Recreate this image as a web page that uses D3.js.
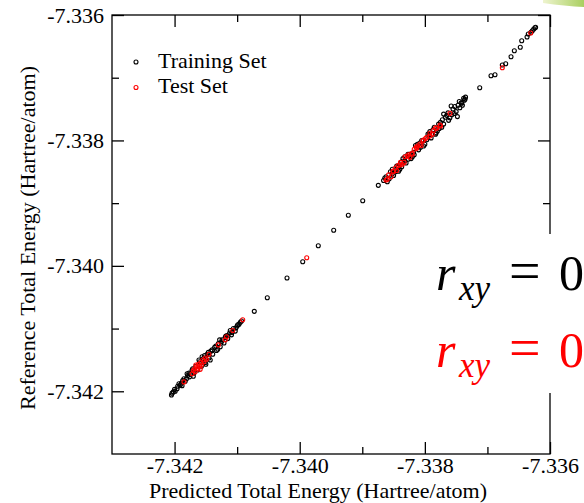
<!DOCTYPE html>
<html>
<head>
<meta charset="utf-8">
<script src="https://cdn.jsdelivr.net/npm/d3@7"></script>
<style>
  html, body { margin: 0; padding: 0; background: #fff; }
  svg { display: block; }
</style>
</head>
<body>
<svg id="chart" width="584" height="503"></svg>
<script>
// ---------------- data ----------------
const xMajorTicks = [-7.342, -7.340, -7.338, -7.336];
const xMinorTicks = [-7.341, -7.339, -7.337];
const yMajorTicks = [-7.342, -7.340, -7.338, -7.336];
const yMinorTicks = [-7.341, -7.339, -7.337];

const seriesNames = ["Training Set", "Test Set"];
const xTitle = "Predicted Total Energy (Hartree/atom)";
const yTitle = "Reference Total Energy (Hartree/atom)";

// [predicted, reference]
const trainingPoints = [
  // top-right sparse tail
  [-7.336230, -7.336195], [-7.336240, -7.336203], [-7.336260, -7.336223], [-7.336283, -7.336250],
  [-7.336304, -7.336276], [-7.336347, -7.336303], [-7.336367, -7.336351], [-7.336452, -7.336410],
  [-7.336475, -7.336515], [-7.336570, -7.336569], [-7.336623, -7.336665], [-7.336708, -7.336777],
  [-7.336762, -7.336797], [-7.336879, -7.336952], [-7.336943, -7.336968], [-7.337123, -7.337159],
  [-7.337358, -7.337344], [-7.337411, -7.337408],
  // upper cluster
  [-7.33866, -7.33864], [-7.33860, -7.33866], [-7.33855, -7.33850], [-7.33850, -7.33856],
  [-7.33845, -7.33841], [-7.33840, -7.33846], [-7.33835, -7.33829], [-7.33830, -7.33836],
  [-7.33825, -7.33822], [-7.33820, -7.33826], [-7.33815, -7.33808], [-7.33810, -7.33815],
  [-7.33805, -7.33800], [-7.33800, -7.33806], [-7.33795, -7.33790], [-7.33790, -7.33796],
  [-7.33785, -7.33779], [-7.33780, -7.33785], [-7.33775, -7.33771], [-7.33770, -7.33774],
  [-7.33765, -7.33760], [-7.33760, -7.33764], [-7.33755, -7.33750], [-7.33750, -7.33754],
  [-7.33745, -7.33738], [-7.33740, -7.33744], [-7.33735, -7.33731], [-7.33752, -7.33746],
  [-7.33762, -7.33768], [-7.33772, -7.33767], [-7.33782, -7.33788], [-7.33792, -7.33786],
  [-7.33802, -7.33809], [-7.33812, -7.33806], [-7.33822, -7.33829], [-7.33832, -7.33826],
  [-7.33842, -7.33849], [-7.33852, -7.33846], [-7.33862, -7.33858], [-7.33770, -7.33758],
  [-7.33758, -7.33745], [-7.33748, -7.33762],
  [-7.33864, -7.33860], [-7.33857, -7.33861], [-7.33852, -7.33853], [-7.33847, -7.33850],
  [-7.33843, -7.33843], [-7.33837, -7.33834], [-7.33832, -7.33833], [-7.33827, -7.33830],
  [-7.33818, -7.33819], [-7.33807, -7.33811], [-7.33797, -7.33799], [-7.33787, -7.33783],
  [-7.33777, -7.33781], [-7.33767, -7.33763], [-7.33757, -7.33759], [-7.33747, -7.33744],
  [-7.33742, -7.33740], [-7.33737, -7.33736], [-7.33738, -7.33733], [-7.33744, -7.33748],
  [-7.33753, -7.33757], [-7.33763, -7.33756], [-7.33773, -7.33779], [-7.33778, -7.33774],
  [-7.33783, -7.33790], [-7.33793, -7.33791], [-7.33808, -7.33804], [-7.33817, -7.33823],
  [-7.33827, -7.33822], [-7.33837, -7.33842],
  // middle sparse stretch
  [-7.338744, -7.338716], [-7.338993, -7.338961], [-7.339223, -7.339194], [-7.339457, -7.339433],
  [-7.339703, -7.339679], [-7.339952, -7.339934], [-7.340203, -7.340194], [-7.340518, -7.340508],
  [-7.340726, -7.340725],
  // lower cluster
  [-7.34205, -7.34206], [-7.34202, -7.34201], [-7.34199, -7.34200], [-7.34195, -7.34192],
  [-7.34191, -7.34190], [-7.34187, -7.34183], [-7.34183, -7.34184], [-7.34179, -7.34175],
  [-7.34176, -7.34177], [-7.34172, -7.34166], [-7.34169, -7.34171], [-7.34166, -7.34160],
  [-7.34163, -7.34166], [-7.34160, -7.34153], [-7.34157, -7.34160], [-7.34154, -7.34148],
  [-7.34151, -7.34154], [-7.34148, -7.34141], [-7.34145, -7.34147], [-7.34142, -7.34136],
  [-7.34139, -7.34141], [-7.34136, -7.34130], [-7.34133, -7.34135], [-7.34130, -7.34124],
  [-7.34127, -7.34129], [-7.34124, -7.34118], [-7.34121, -7.34123], [-7.34118, -7.34112],
  [-7.34115, -7.34116], [-7.34112, -7.34107], [-7.34109, -7.34110], [-7.34106, -7.34100],
  [-7.34103, -7.34104], [-7.34100, -7.34096], [-7.34097, -7.34093], [-7.34128, -7.34118],
  [-7.34143, -7.34150], [-7.34170, -7.34176], [-7.34180, -7.34172], [-7.34188, -7.34191],
  [-7.34204, -7.34203], [-7.34200, -7.34197], [-7.34196, -7.34196], [-7.34193, -7.34188],
  [-7.34189, -7.34187], [-7.34185, -7.34180], [-7.34181, -7.34180], [-7.34177, -7.34171],
  [-7.34174, -7.34173], [-7.34171, -7.34164], [-7.34161, -7.34150], [-7.34152, -7.34143],
  [-7.34146, -7.34138], [-7.34140, -7.34134], [-7.34134, -7.34128], [-7.34131, -7.34133],
  [-7.34125, -7.34121], [-7.34119, -7.34114], [-7.34116, -7.34111], [-7.34111, -7.34103],
  [-7.34108, -7.34106], [-7.34102, -7.34099], [-7.34099, -7.34094], [-7.34095, -7.34090],
  [-7.34093, -7.34088], [-7.34156, -7.34145], [-7.34150, -7.34157]
];

const testPoints = [
  // top / middle
  [-7.336308, -7.336287], [-7.336762, -7.336840], [-7.339888, -7.339870], [-7.340911, -7.340859],
  // upper cluster
  [-7.338621, -7.338631], [-7.338504, -7.338499], [-7.338397, -7.338392], [-7.338317, -7.338260],
  [-7.338210, -7.338205], [-7.338130, -7.338126], [-7.338078, -7.338057], [-7.338025, -7.337993],
  [-7.337918, -7.337886], [-7.337811, -7.337807], [-7.337758, -7.337754], [-7.337598, -7.337568],
  [-7.33858, -7.33855], [-7.33854, -7.33858], [-7.33847, -7.33844], [-7.33843, -7.33840],
  [-7.33836, -7.33838], [-7.33828, -7.33825], [-7.33824, -7.33827], [-7.33817, -7.33814],
  [-7.33812, -7.33809], [-7.33803, -7.33801], [-7.33797, -7.33795], [-7.33788, -7.33790],
  [-7.33783, -7.33780], [-7.33775, -7.33777],
  [-7.33860, -7.33862], [-7.33851, -7.33849], [-7.33845, -7.33848], [-7.33839, -7.33835],
  [-7.33833, -7.33835], [-7.33826, -7.33823], [-7.33820, -7.33822], [-7.33814, -7.33811],
  [-7.33806, -7.33808], [-7.33799, -7.33797], [-7.33792, -7.33793], [-7.33786, -7.33784],
  // lower cluster
  [-7.34185, -7.34185], [-7.34172, -7.34172], [-7.34170, -7.34167], [-7.34168, -7.34164],
  [-7.34167, -7.34169], [-7.34165, -7.34161], [-7.34163, -7.34164], [-7.34162, -7.34157],
  [-7.34160, -7.34160], [-7.34158, -7.34154], [-7.34157, -7.34158], [-7.34155, -7.34150],
  [-7.34153, -7.34153], [-7.34151, -7.34147], [-7.34149, -7.34149], [-7.34166, -7.34158],
  [-7.34159, -7.34165], [-7.34145, -7.34141], [-7.34130, -7.34126], [-7.34119, -7.34118],
  [-7.34117, -7.34113], [-7.34107, -7.34103]
];

const corrLabels = [
  { sub: "xy", value: "0", color: "#000000" },
  { sub: "xy", value: "0", color: "#ff0000" }
];

// ---------------- chart ----------------
const SERIF = "Liberation Serif, Times New Roman, serif";
const svg = d3.select("#chart").attr("font-family", SERIF);
const W = 584, H = 503;
const plot = { left: 112, right: 550, top: 15, bottom: 454 };

const x = d3.scaleLinear().domain([-7.343, -7.336]).range([plot.left, plot.right]);
const y = d3.scaleLinear().domain([-7.343, -7.336]).range([plot.bottom, plot.top]);
const fmt = d => d.toFixed(3);
const FS = 22;

// decorative green swoosh (top-right)
const defs = svg.append("defs");
const grad = defs.append("linearGradient").attr("id", "gr").attr("x1", "0").attr("x2", "1");
grad.append("stop").attr("offset", "0").attr("stop-color", "#eef4cf");
grad.append("stop").attr("offset", "1").attr("stop-color", "#a9cf5f");
svg.append("path").attr("d", "M543,0 L584,0 L584,7 Q565,6 543,3 Z").attr("fill", "url(#gr)");

// frame
svg.append("rect")
  .attr("x", plot.left).attr("y", plot.top)
  .attr("width", plot.right - plot.left).attr("height", plot.bottom - plot.top)
  .attr("fill", "none").attr("stroke", "#000").attr("stroke-width", 1.3);

function styleAxis(g) {
  g.attr("font-family", SERIF);
  g.select(".domain").remove();
  g.selectAll(".tick line").attr("stroke", "#000").attr("stroke-width", 1.3);
  g.selectAll(".tick text").attr("font-family", SERIF).attr("font-size", FS).attr("fill", "#000");
}

// bottom
svg.append("g").attr("transform", `translate(0,${plot.bottom})`)
  .call(d3.axisBottom(x).tickValues(xMajorTicks).tickSize(-12).tickPadding(3).tickFormat(fmt))
  .call(styleAxis);
svg.append("g").attr("transform", `translate(0,${plot.bottom})`)
  .call(d3.axisBottom(x).tickValues(xMinorTicks).tickSize(-7).tickFormat(""))
  .call(styleAxis);
// top
svg.append("g").attr("transform", `translate(0,${plot.top})`)
  .call(d3.axisTop(x).tickValues(xMajorTicks).tickSize(-12).tickFormat(""))
  .call(styleAxis);
svg.append("g").attr("transform", `translate(0,${plot.top})`)
  .call(d3.axisTop(x).tickValues(xMinorTicks).tickSize(-7).tickFormat(""))
  .call(styleAxis);
// left
svg.append("g").attr("transform", `translate(${plot.left},0)`)
  .call(d3.axisLeft(y).tickValues(yMajorTicks).tickSize(-12).tickPadding(8).tickFormat(fmt))
  .call(styleAxis);
svg.append("g").attr("transform", `translate(${plot.left},0)`)
  .call(d3.axisLeft(y).tickValues(yMinorTicks).tickSize(-7).tickFormat(""))
  .call(styleAxis);
// right
svg.append("g").attr("transform", `translate(${plot.right},0)`)
  .call(d3.axisRight(y).tickValues(yMajorTicks).tickSize(-12).tickFormat(""))
  .call(styleAxis);
svg.append("g").attr("transform", `translate(${plot.right},0)`)
  .call(d3.axisRight(y).tickValues(yMinorTicks).tickSize(-7).tickFormat(""))
  .call(styleAxis);

// points
const R = 2;
svg.append("g").selectAll("circle").data(trainingPoints).join("circle")
  .attr("cx", d => x(d[0])).attr("cy", d => y(d[1])).attr("r", R)
  .attr("fill", "none").attr("stroke", "#000").attr("stroke-width", 1.1);
svg.append("g").selectAll("circle").data(testPoints).join("circle")
  .attr("cx", d => x(d[0])).attr("cy", d => y(d[1])).attr("r", R)
  .attr("fill", "none").attr("stroke", "#ff0000").attr("stroke-width", 1.1);

// axis titles
svg.append("text").attr("x", 318).attr("y", 498).attr("text-anchor", "middle")
  .attr("font-size", FS).text(xTitle);
svg.append("text").attr("transform", "translate(35,238) rotate(-90)").attr("text-anchor", "middle")
  .attr("font-size", FS).text(yTitle);

// legend
const legend = svg.append("g");
const legendColors = ["#000000", "#ff0000"];
seriesNames.forEach((name, i) => {
  const cy = 62 + i * 25.5;
  legend.append("circle").attr("cx", 136).attr("cy", cy).attr("r", R)
    .attr("fill", "none").attr("stroke", legendColors[i]).attr("stroke-width", 1.1);
  legend.append("text").attr("x", 158).attr("y", cy + 5.5).attr("font-size", FS).text(name);
});

// overlay box with correlation labels
svg.append("rect").attr("x", 405).attr("y", 234).attr("width", W - 405).attr("height", 159)
  .attr("fill", "#fff");
corrLabels.forEach((c, i) => {
  const base = 290 + i * 77;
  const t = svg.append("text").attr("y", base).attr("fill", c.color).attr("font-size", 50)
    .attr("font-family", SERIF);
  t.append("tspan").attr("x", 436).attr("font-style", "italic").text("r");
  t.append("tspan").attr("x", 459).attr("y", base + 10).attr("font-size", 35)
    .attr("font-style", "italic").text(c.sub);
  t.append("tspan").attr("x", 509).attr("y", base).attr("font-size", 56).text("=");
  t.append("tspan").attr("x", 559).attr("y", base).text(c.value);
});
</script>
</body>
</html>
